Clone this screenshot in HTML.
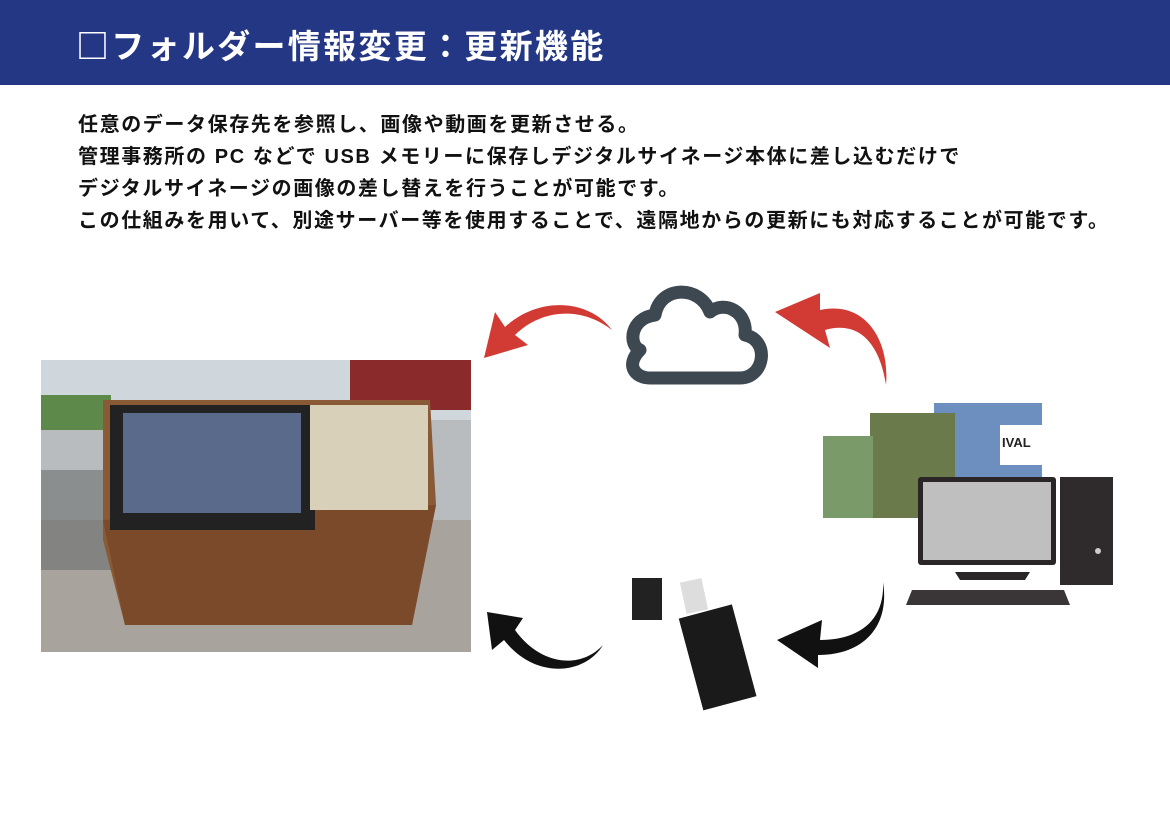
<!DOCTYPE html>
<html><head><meta charset="utf-8"><style>
body{margin:0;width:1170px;height:825px;background:#fff;position:relative;overflow:hidden;font-family:"Liberation Sans","Noto Sans CJK JP",sans-serif}
.hd{position:absolute;left:0;top:0;width:1170px;height:85px;background:#243785}
.hd div{position:absolute;left:76px;top:20px;color:#fff;font-size:33px;font-weight:bold;letter-spacing:2.3px;font-family:"Noto Sans CJK JP",sans-serif}
.tx{position:absolute;left:78px;top:109px;font-size:20px;font-weight:bold;line-height:32px;color:#111;white-space:nowrap;letter-spacing:1.6px}
</style></head><body>
<div class="hd"><div>□フォルダー情報変更：更新機能</div></div>
<div class="tx">任意のデータ保存先を参照し、画像や動画を更新させる。<br>管理事務所の PC などで USB メモリーに保存しデジタルサイネージ本体に差し込むだけで<br>デジタルサイネージの画像の差し替えを行うことが可能です。<br>この仕組みを用いて、別途サーバー等を使用することで、遠隔地からの更新にも対応することが可能です。</div>
<svg width="1170" height="825" style="position:absolute;left:0;top:0">
<rect x="41" y="360" width="430" height="292" fill="#b9bcbf"/>
<rect x="41" y="360" width="430" height="60" fill="#cfd6dc"/>
<rect x="350" y="360" width="121" height="50" fill="#8a2a2a"/>
<rect x="41" y="395" width="70" height="35" fill="#5d8a4a"/>
<rect x="41" y="520" width="430" height="132" fill="#a8a39c"/>
<rect x="41" y="470" width="70" height="100" fill="#6b6f70" opacity=".6"/>
<polygon points="103,400 430,400 436,505 412,625 125,625 103,540" fill="#8a5a36"/>
<polygon points="103,520 436,505 412,625 125,625" fill="#7a4a2a"/>
<rect x="110" y="405" width="205" height="125" fill="#222"/>
<rect x="123" y="413" width="178" height="100" fill="#5a6a8a"/>
<rect x="310" y="405" width="118" height="105" fill="#d8d0b8"/>
<path d="M650,378 L740,378 C765,378 770,340 745,335 C748,312 725,300 710,312 C700,285 660,285 655,315 C630,318 628,345 640,350 C625,365 635,378 650,378 Z" fill="none" stroke="#3d4851" stroke-width="13" stroke-linejoin="round"/>
<path d="M612,330 C580,305 540,310 515,335 L528,345 L484,358 L495,312 L505,327 C540,295 590,300 612,330 Z" fill="#d23a34"/>
<path d="M886,385 C880,345 860,320 825,330 L830,348 L775,312 L820,293 L820,310 C865,300 890,340 886,385 Z" fill="#d23a34"/>
<path d="M603,645 C580,670 540,665 515,630 L523,618 L487,612 L492,650 L504,640 C535,680 585,675 603,645 Z" fill="#111"/>
<path d="M883,582 C885,620 860,640 820,640 L822,620 L777,640 L818,668 L818,655 C865,655 890,625 883,582 Z" fill="#111"/>
<rect x="934" y="403" width="108" height="85" fill="#6c8fbf"/>
<rect x="1000" y="425" width="42" height="40" fill="#fff"/>
<text x="1002" y="447" font-size="13" font-weight="bold" fill="#222">IVAL</text>
<rect x="870" y="413" width="85" height="105" fill="#6a7a4a"/>
<rect x="823" y="436" width="50" height="82" fill="#7a9a6a"/>
<rect x="918" y="477" width="138" height="88" rx="3" fill="#2a2526"/>
<rect x="923" y="482" width="128" height="78" fill="#bfbfbf"/>
<polygon points="955,572 1030,572 1025,580 960,580" fill="#2a2526"/>
<polygon points="906,605 1070,605 1064,590 912,590" fill="#3a3536"/>
<rect x="1060" y="477" width="53" height="108" fill="#2f2a2b"/>
<circle cx="1098" cy="551" r="3" fill="#ccc"/>
<rect x="632" y="578" width="30" height="42" fill="#222"/>
<rect x="683" y="580" width="22" height="32" fill="#ddd" transform="rotate(-12 694 596)"/>
<rect x="690" y="610" width="55" height="95" fill="#1a1a1a" transform="rotate(-15 717 657)"/>
</svg>
</body></html>
